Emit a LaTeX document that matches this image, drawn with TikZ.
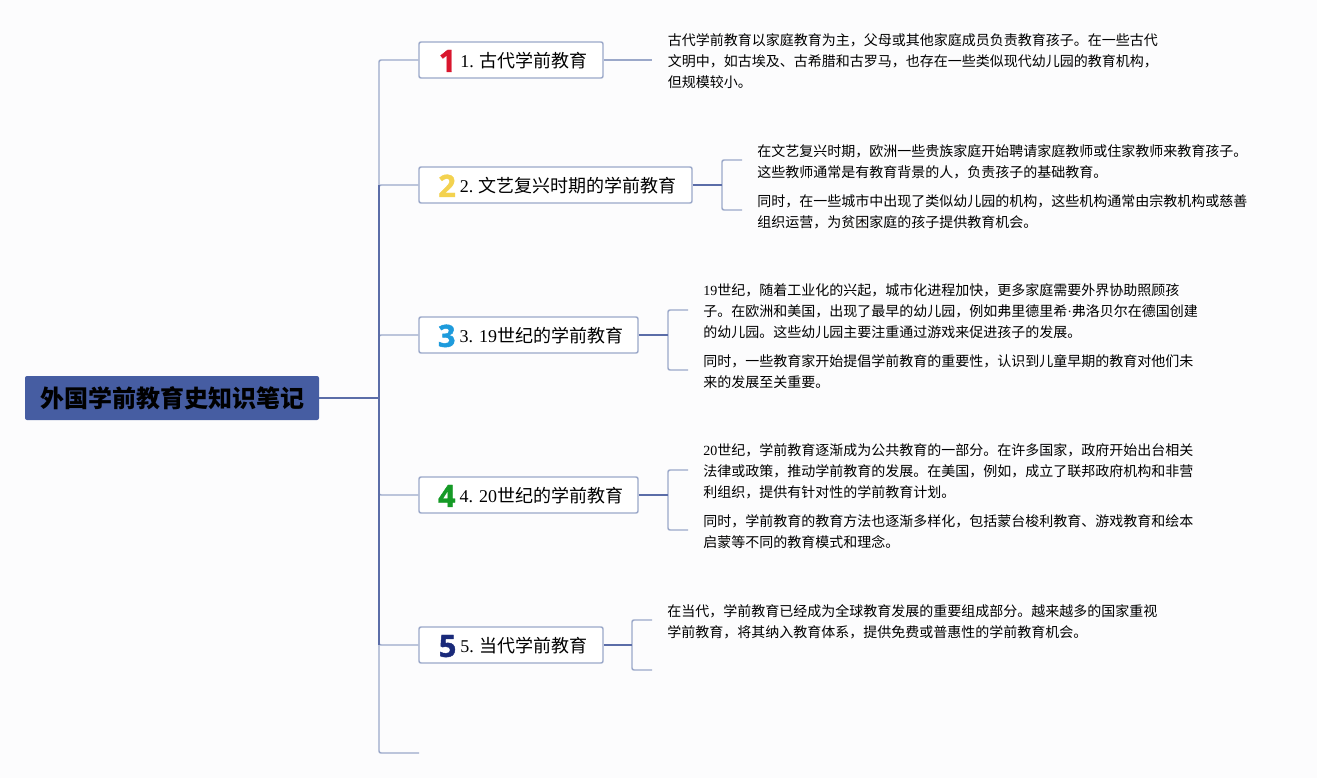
\documentclass[tikz,border=0pt]{standalone}
\usepackage{fontspec}
\setmainfont{Liberation Serif}
\newfontfamily\cjk{Noto Sans CJK SC}
\newfontfamily\iconfont[BoldFeatures={FakeBold=1.4}]{Open Sans}
\usepackage{tikz}

\definecolor{pagebg}{HTML}{FCFCFD}
\definecolor{titleblue}{HTML}{465DA2}
\definecolor{linklight}{HTML}{9BA8C9}
\definecolor{linkdark}{HTML}{5B6DA8}
\definecolor{icona}{HTML}{D9162E}
\definecolor{iconb}{HTML}{F3D24F}
\definecolor{iconc}{HTML}{1E9BDC}
\definecolor{icond}{HTML}{159A26}
\definecolor{icone}{HTML}{1A2A7A}

\newcommand{\lat}[1]{{\rmfamily #1}}
\newcommand{\icon}[2]{\hspace*{3pt}\raisebox{-3.4pt}{\fontsize{23}{24}\iconfont\bfseries\color{#1}#2}\hspace{3pt}}

\tikzset{
	titlebox/.style={rectangle, rounded corners=1.5pt, fill=titleblue, inner sep=0pt, minimum width=220.5pt, minimum height=33pt, font=\cjk\bfseries\fontsize{18}{24}\selectfont},
	branchbox/.style={draw=linklight, line width=1.1pt, rectangle, rounded corners=1.5pt, fill=white, inner sep=0pt, minimum height=27pt, text height=16pt, text depth=5pt, font=\cjk\fontsize{13.5}{18}\selectfont},
	leaftext/.style={anchor=west, inner sep=0pt, align=left, font=\cjk\fontsize{10.5}{15.75}\selectfont},
	linkthin/.style={draw=linklight, line width=1.1pt, rounded corners=1.5pt},
	linkbold/.style={draw=linkdark, line width=1.1pt},
}

\begin{document}
\begin{tikzpicture}[x=0.75pt, y=-0.75pt]
	\fill[pagebg] (0,0) rectangle (1317,778);
	\useasboundingbox (0,0) rectangle (1317,778);

	\node (title) [titlebox] at (172,398) {外国学前教育史知识笔记};

	\node (box1) [branchbox, minimum width=138pt] at (511,60) {\icon{icona}{1}\lat{1.} 古代学前教育};
	\node (box2) [branchbox, minimum width=204.75pt] at (555.5,185) {\icon{iconb}{2}\lat{2.} 文艺复兴时期的学前教育};
	\node (box3) [branchbox, minimum width=164.25pt] at (528.5,335) {\icon{iconc}{3}\lat{3. 19}世纪的学前教育};
	\node (box4) [branchbox, minimum width=164.25pt] at (528.5,495) {\icon{icond}{4}\lat{4. 20}世纪的学前教育};
	\node (box5) [branchbox, minimum width=138pt] at (511,645) {\icon{icone}{5}\lat{5.} 当代学前教育};

	\node (text1) [leaftext] at (667.5,61.5) {古代学前教育以家庭教育为主，父母或其他家庭成员负责教育孩子。在一些古代\\文明中，如古埃及、古希腊和古罗马，也存在一些类似现代幼儿园的教育机构，\\但规模较小。};
	\node (text2a) [leaftext] at (757,161.5) {在文艺复兴时期，欧洲一些贵族家庭开始聘请家庭教师或住家教师来教育孩子。\\这些教师通常是有教育背景的人，负责孩子的基础教育。};
	\node (text2b) [leaftext] at (757,211.5) {同时，在一些城市中出现了类似幼儿园的机构，这些机构通常由宗教机构或慈善\\组织运营，为贫困家庭的孩子提供教育机会。};
	\node (text3a) [leaftext] at (703,311.5) {\lat{19}世纪，随着工业化的兴起，城市化进程加快，更多家庭需要外界协助照顾孩\\子。在欧洲和美国，出现了最早的幼儿园，例如弗里德里希\lat{·}弗洛贝尔在德国创建\\的幼儿园。这些幼儿园主要注重通过游戏来促进孩子的发展。};
	\node (text3b) [leaftext] at (703,371.5) {同时，一些教育家开始提倡学前教育的重要性，认识到儿童早期的教育对他们未\\来的发展至关重要。};
	\node (text4a) [leaftext] at (703,471.5) {\lat{20}世纪，学前教育逐渐成为公共教育的一部分。在许多国家，政府开始出台相关\\法律或政策，推动学前教育的发展。在美国，例如，成立了联邦政府机构和非营\\利组织，提供有针对性的学前教育计划。};
	\node (text4b) [leaftext] at (703,531.5) {同时，学前教育的教育方法也逐渐多样化，包括蒙台梭利教育、游戏教育和绘本\\启蒙等不同的教育模式和理念。};
	\node (text5) [leaftext] at (667,621.5) {在当代，学前教育已经成为全球教育发展的重要组成部分。越来越多的国家重视\\学前教育，将其纳入教育体系，提供免费或普惠性的学前教育机会。};

	% Free ends
	\coordinate (trunk) at (379,398);
	\coordinate (end1) at (652,60);
	\coordinate (end6) at (419,753);
	\coordinate (fork2) at (722,185);
	\coordinate (end2a) at (742,160);
	\coordinate (end2b) at (742,210);
	\coordinate (fork3) at (668,335);
	\coordinate (end3a) at (688,310);
	\coordinate (end3b) at (688,370);
	\coordinate (fork4) at (668,495);
	\coordinate (end4a) at (688,470);
	\coordinate (end4b) at (688,530);
	\coordinate (fork5) at (632,645);
	\coordinate (end5a) at (652,620);
	\coordinate (end5b) at (652,670);

	% Connectors
	\draw[linkthin] (trunk) |- (box1.west);
	\draw[linkthin] (trunk) |- (box2.west);
	\draw[linkthin] (trunk) |- (box3.west);
	\draw[linkthin] (trunk) |- (box4.west);
	\draw[linkthin] (trunk) |- (box5.west);
	\draw[linkthin] (trunk) |- (end6);
	\draw[linkthin] (box1.east) -- (end1);
	\draw[linkthin] (fork2) |- (end2a);
	\draw[linkthin] (fork2) |- (end2b);
	\draw[linkthin] (fork3) |- (end3a);
	\draw[linkthin] (fork3) |- (end3b);
	\draw[linkthin] (fork4) |- (end4a);
	\draw[linkthin] (fork4) |- (end4b);
	\draw[linkthin] (fork5) |- (end5a);
	\draw[linkthin] (fork5) |- (end5b);
	\draw[linkbold] (title.east) -- (trunk);
	\draw[linkbold] (box2.east) -- (fork2);
	\draw[linkbold] (box3.east) -- (fork3);
	\draw[linkbold] (box4.east) -- (fork4);
	\draw[linkbold] (box5.east) -- (fork5);
	\draw[linkbold] (box2.west -| trunk) -- (box5.west -| trunk);
\end{tikzpicture}
\end{document}
